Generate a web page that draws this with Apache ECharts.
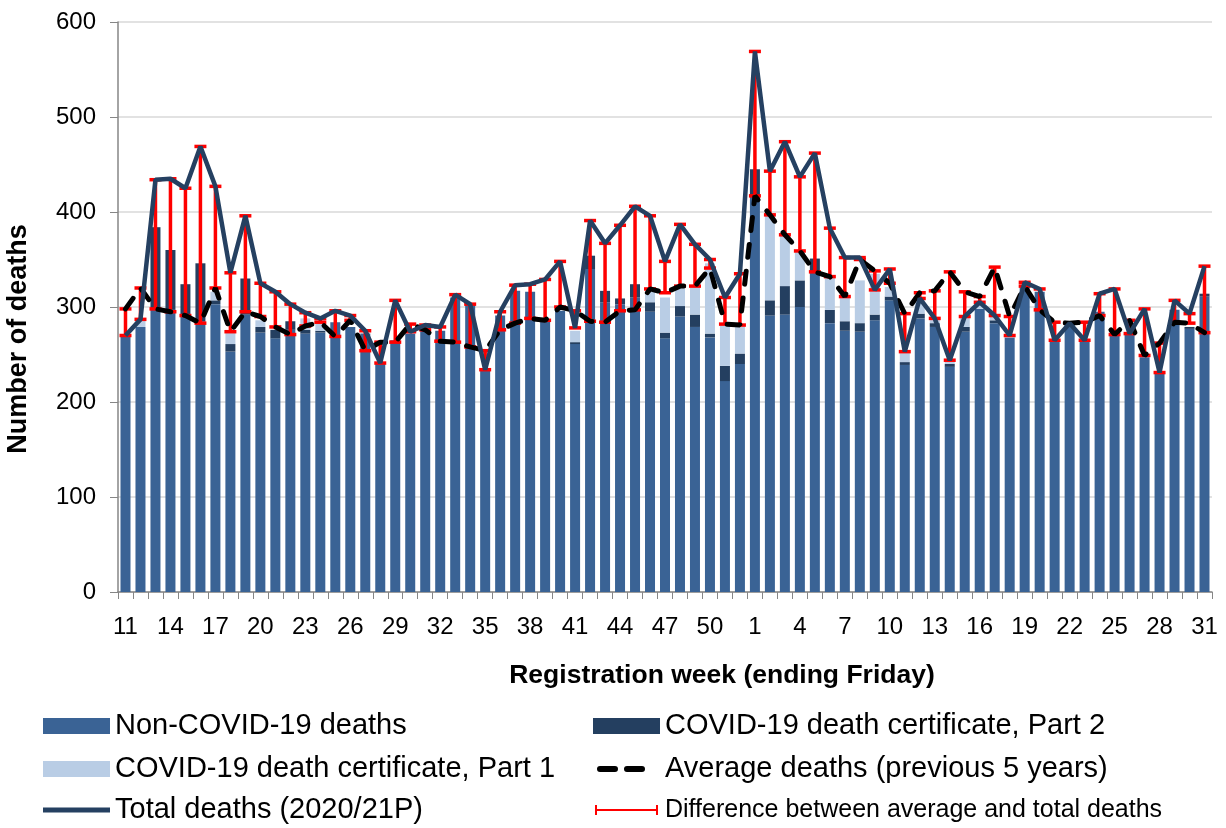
<!DOCTYPE html>
<html>
<head>
<meta charset="utf-8">
<script src="https://cdn.jsdelivr.net/npm/echarts@6/dist/echarts.min.js"></script>
<style>
  html, body { margin: 0; padding: 0; background: #ffffff; }
  #chart { width: 1226px; height: 828px; }
</style>
</head>
<body>
<div id="chart"></div>
<script>
// Registration weeks: 2020 weeks 11-52, then 2021 weeks 1-31
const weeks = [
  '11','12','13','14','15','16','17','18','19','20','21','22','23','24','25','26','27','28','29','30',
  '31','32','33','34','35','36','37','38','39','40','41','42','43','44','45','46','47','48','49','50',
  '51','52',
  '1','2','3','4','5','6','7','8','9','10','11','12','13','14','15','16','17','18','19','20',
  '21','22','23','24','25','26','27','28','29','30','31'
];

// Stacked bar components
const nonCovid = [
  270,279,298,297,290,285,303,253,292,273,267,276,272,273,284,279,272,241,265,272,
  279,275,310,302,234,291,317,316,286,296,261,340,305,303,310,295,267,290,279,268,
  222,240,
  417,291,292,300,337,283,275,274,286,307,239,288,279,237,274,298,283,268,323,316,
  265,281,265,295,270,272,247,230,297,277,311
];
const covidPart2 = [
  0,0,86,63,34,61,4,8,38,6,9,9,4,2,0,0,0,0,0,0,
  0,0,0,0,0,0,0,0,0,0,2,14,12,6,14,10,6,11,13,4,
  16,11,
  28,16,30,28,14,14,10,9,6,4,3,5,4,3,5,0,3,0,0,0,
  0,0,0,0,0,0,0,0,0,2,3
];
const covidPart1 = [
  0,8,0,0,0,0,9,12,0,7,0,0,12,11,0,0,0,0,0,0,
  0,0,0,0,0,0,0,0,0,0,12,0,0,0,0,11,37,21,30,74,
  43,29,
  0,90,54,31,0,35,25,45,43,10,10,14,5,4,10,5,4,2,0,0,
  0,0,0,0,0,0,0,0,0,0,0
];

// Weekly totals and five-year averages
const totalDeaths = [
  270,287,434,435,425,469,427,336,396,325,316,303,294,288,296,291,275,241,307,274,
  281,279,313,303,234,295,323,324,329,348,278,391,367,386,406,396,348,387,366,350,
  310,335,
  569,443,474,437,462,383,352,352,318,340,253,309,288,244,290,305,291,270,326,319,
  265,283,265,314,319,272,298,231,307,293,343
];
const averageDeaths = [
  298,320,298,295,291,283,320,274,295,290,279,271,280,284,269,286,254,263,263,282,
  276,264,263,258,254,276,283,288,286,300,296,285,284,296,297,319,315,322,322,341,
  282,281,
  417,397,376,359,337,332,311,350,338,325,293,315,317,337,316,311,342,290,322,297,
  284,283,284,291,271,286,249,262,284,283,273
];

const FONT = "'Liberation Sans', Arial, sans-serif";
const chart = echarts.init(document.getElementById('chart'), null, { renderer: 'canvas' });

const diffData = weeks.map((w, i) => [i, averageDeaths[i], totalDeaths[i]]);

// Vertical red bar from the average to the total, with end caps
function renderDiff(params, api) {
  const idx = api.value(0);
  const a = api.coord([idx, api.value(1)]);
  const b = api.coord([idx, api.value(2)]);
  const half = 6;
  const st = { stroke: '#ff0000', lineWidth: 3.5 };
  return {
    type: 'group',
    children: [
      { type: 'line', shape: { x1: a[0], y1: a[1], x2: b[0], y2: b[1] }, style: st },
      { type: 'line', shape: { x1: a[0] - half, y1: a[1], x2: a[0] + half, y2: a[1] }, style: st },
      { type: 'line', shape: { x1: b[0] - half, y1: b[1], x2: b[0] + half, y2: b[1] }, style: st }
    ]
  };
}

// Legend icons drawn in a 67x16 box (tiny corner specks fix the box size)
const BOX = 'M0,0 L0.1,0 L0,0.1 Z M67,16 L66.9,16 L67,15.9 Z ';
const ICON_TOTAL = 'path://' + BOX + 'M0,5.5 H67 V10.5 H0 Z';
const ICON_AVG = 'path://' + BOX + 'M7,5 H22 A3,3 0 0 1 22,11 H7 A3,3 0 0 1 7,5 Z M34,5 H49 A3,3 0 0 1 49,11 H34 A3,3 0 0 1 34,5 Z';
const ICON_DIFF = 'path://' + BOX + 'M2,3 H4 V7 H63 V3 H65 V13 H63 V9 H4 V13 H2 Z';

// One legend entry per block, laid out in two columns of three rows
function legendEntry(name, icon, left, centerY, fontSize) {
  return {
    left: left, top: centerY - fontSize / 2, padding: 0,
    itemWidth: 67, itemHeight: 16,
    textStyle: { fontFamily: FONT, fontSize: fontSize, color: '#000' },
    data: [{ name: name, icon: icon }]
  };
}

chart.setOption({
  animation: false,
  backgroundColor: '#ffffff',
  textStyle: { fontFamily: FONT },
  grid: { left: 118, right: 14, top: 22, bottom: 236, outerBoundsMode: 'none', containLabel: false },
  legend: [
    legendEntry('Non-COVID-19 deaths', 'rect', 43, 726, 29),
    legendEntry('COVID-19 death certificate, Part 1', 'rect', 43, 769, 29),
    legendEntry('Total deaths (2020/21P)', ICON_TOTAL, 43, 810, 29),
    legendEntry('COVID-19 death certificate, Part 2', 'rect', 593, 726, 29),
    legendEntry('Average deaths (previous 5 years)', ICON_AVG, 593, 769, 29),
    legendEntry('Difference between average and total deaths', ICON_DIFF, 593, 810, 25)
  ],
  xAxis: {
    type: 'category',
    data: weeks,
    boundaryGap: true,
    axisLine: { lineStyle: { color: '#868686', width: 1.5 } },
    axisTick: { show: true, interval: 0, length: 7, lineStyle: { color: '#868686' } },
    axisLabel: { interval: 2, fontSize: 24, color: '#000', margin: 23, fontFamily: FONT },
    name: 'Registration week (ending Friday)',
    nameLocation: 'middle',
    nameGap: 70,
    nameTextStyle: { fontSize: 26.5, fontWeight: 'bold', color: '#000', fontFamily: FONT, padding: [0, 0, 0, 114] }
  },
  yAxis: {
    type: 'value',
    min: 0, max: 600, interval: 100,
    axisLine: { show: true, lineStyle: { color: '#868686', width: 1.5 } },
    axisTick: { show: true, length: 8, lineStyle: { color: '#868686' } },
    splitLine: { lineStyle: { color: '#d9d9d9', width: 1.5 } },
    axisLabel: { fontSize: 24, color: '#000', margin: 22, fontFamily: FONT },
    name: 'Number of deaths',
    nameLocation: 'middle',
    nameRotate: 90,
    nameGap: 86,
    nameTextStyle: { fontSize: 27, fontWeight: 'bold', color: '#000', fontFamily: FONT, padding: [0, 64, 0, 0] }
  },
  series: [
    {
      name: 'Non-COVID-19 deaths', type: 'bar', stack: 'deaths', barWidth: 10,
      itemStyle: { color: '#3a6395' }, data: nonCovid, z: 2
    },
    {
      name: 'COVID-19 death certificate, Part 2', type: 'bar', stack: 'deaths', barWidth: 10,
      itemStyle: { color: '#243f60' }, data: covidPart2, z: 2
    },
    {
      name: 'COVID-19 death certificate, Part 1', type: 'bar', stack: 'deaths', barWidth: 10,
      itemStyle: { color: '#b9cde5' }, data: covidPart1, z: 2
    },
    {
      name: 'Difference between average and total deaths', type: 'custom',
      renderItem: renderDiff, data: diffData,
      encode: { x: 0, y: [1, 2] },
      itemStyle: { color: '#ff0000' }, z: 3
    },
    {
      name: 'Average deaths (previous 5 years)', type: 'line', data: averageDeaths,
      symbol: 'none', itemStyle: { color: '#000' },
      lineStyle: { color: '#000', width: 5, type: [13, 14], cap: 'round' }, z: 4
    },
    {
      name: 'Total deaths (2020/21P)', type: 'line', data: totalDeaths,
      symbol: 'none', itemStyle: { color: '#254061' },
      lineStyle: { color: '#254061', width: 4.5 }, z: 5
    }
  ]
});
</script>
</body>
</html>
